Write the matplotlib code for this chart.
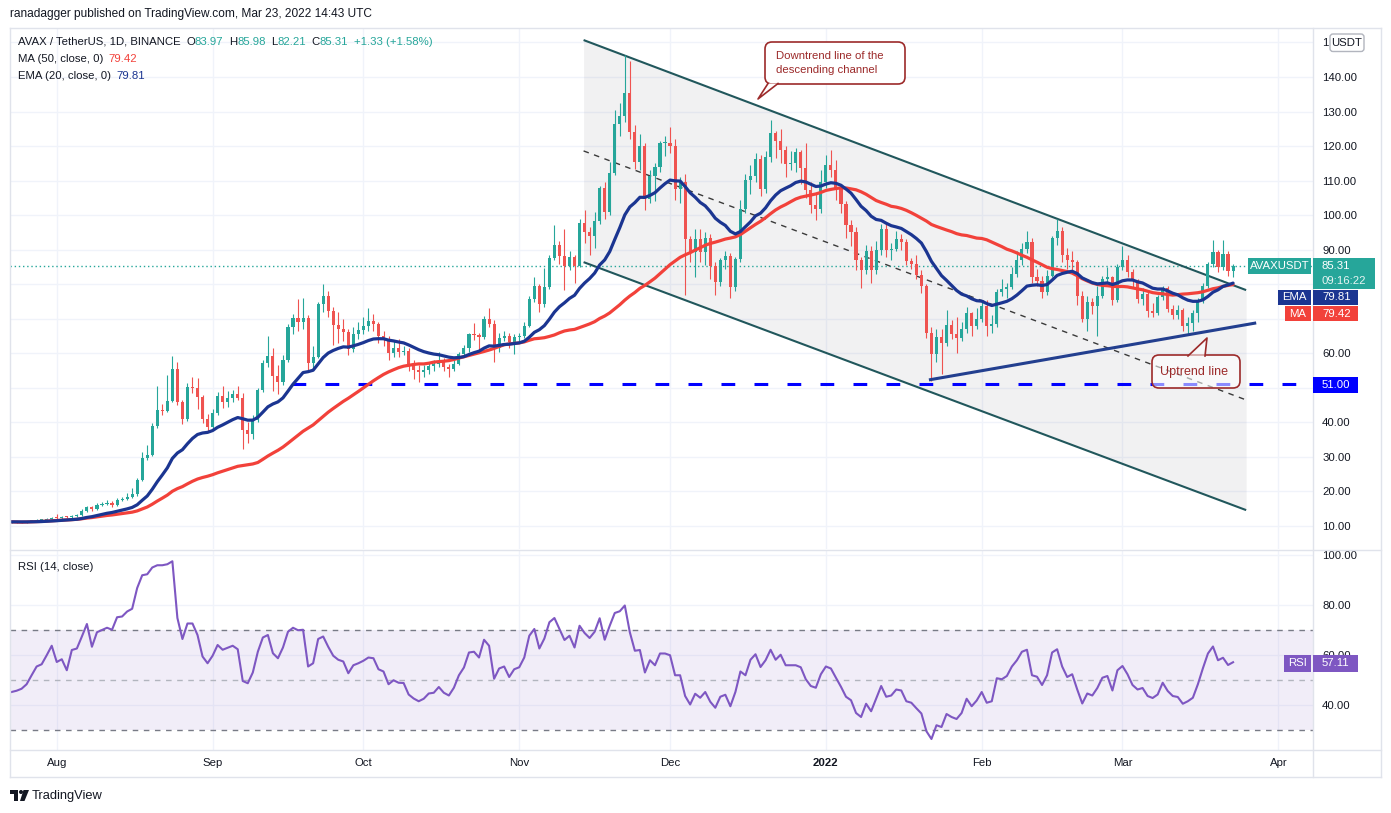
import matplotlib
matplotlib.use('Agg')
import matplotlib.pyplot as plt
import matplotlib.transforms as mtransforms
from matplotlib.patches import Rectangle, FancyBboxPatch, Polygon, Circle
from matplotlib.lines import Line2D
import numpy as np
import pandas as pd

plt.rcParams['font.family'] = ['Liberation Sans', 'DejaVu Sans']

# ---- data (AVAX/USDT daily) ----
first_day = '2021-07-23'
first_open = 11.0
closes = [
    11.2, 11.1, 11.0, 11.3, 11.4, 11.6, 11.7, 12.1, 12.4,
    # Aug
    12.2, 12.6, 12.5, 12.8, 13.2, 14.3, 15.4, 14.8, 16.2, 16.4, 16.8, 16.1, 17.6, 17.8, 18.3, 19.4,
    23.4, 29.8, 30.6, 39.0, 43.7, 43.4, 46.3, 55.6, 46.0, 41.1, 50.2, 50.0, 47.3, 41.1, 38.8,
    # Sep
    42.6, 47.6, 45.8, 47.2, 48.1, 47.2, 37.7, 36.7, 40.8, 49.3, 57.1, 59.1, 53.3, 51.6, 58.1,
    67.6, 70.2, 69.0, 70.2, 57.1, 59.0, 74.2, 76.5, 72.3, 68.1, 67.0, 66.1, 61.2, 65.5, 66.8,
    # Oct
    67.9, 69.4, 68.4, 65.0, 64.1, 60.0, 61.4, 60.3, 60.6, 56.8, 55.2, 54.5, 55.2, 56.3, 56.8, 57.8,
    55.9, 55.6, 56.8, 59.7, 61.4, 65.5, 65.2, 64.7, 69.9, 68.4, 61.4, 64.4, 65.0, 63.3, 64.6,
    # Nov
    65.0, 67.9, 75.7, 79.5, 74.2, 79.2, 87.6, 91.5, 88.2, 85.4, 88.0, 85.4, 97.8, 95.1, 94.0,
    98.2, 107.9, 101.0, 112.3, 126.3, 128.8, 135.3, 124.2, 115.5, 119.9, 104.8, 111.2, 114.0, 120.8, 121.0,
    # Dec
    120.0, 107.7, 109.5, 93.1, 89.2, 93.1, 89.3, 93.4, 85.4, 80.6, 86.9, 88.3, 79.2, 87.3, 101.9, 110.1,
    111.2, 116.4, 107.7, 116.9, 123.7, 121.5, 119.0, 114.9, 115.2, 118.3, 113.7, 107.3, 102.9, 101.9, 109.6,
    # Jan
    114.5, 113.0, 107.7, 103.3, 97.2, 95.1, 86.9, 84.0, 89.5, 84.2, 89.8, 96.0, 89.8, 90.2, 93.1, 92.1,
    86.6, 85.9, 82.7, 79.4, 66.0, 59.7, 64.7, 63.1, 68.1, 65.7, 64.4, 67.0, 71.8, 67.9, 69.9,
    # Feb
    73.8, 67.9, 68.4, 77.8, 78.5, 79.1, 83.0, 86.9, 90.2, 92.1, 82.1, 81.0, 77.7, 82.5,
    93.3, 95.5, 88.4, 86.9, 86.5, 76.7, 69.9, 74.8, 73.8, 76.7, 81.5, 82.0, 75.3, 84.9,
    # Mar
    86.9, 83.5, 81.0, 75.7, 77.2, 72.3, 71.8, 76.3, 78.8, 72.8, 71.0, 72.5, 67.9, 68.9, 71.8,
    75.2, 79.4, 85.9, 89.3, 84.9, 88.8, 83.97, 85.31,
]
highs = [
    11.4, 11.5, 11.3, 11.5, 11.7, 11.9, 12.0, 12.4, 12.7,
    13.6, 13.0, 13.0, 13.2, 13.6, 14.8, 15.9, 15.8, 16.6, 16.9, 17.4, 17.2, 18.0, 18.4, 19.5, 21.0,
    24.0, 31.5, 33.5, 39.8, 50.4, 45.2, 53.6, 59.1, 57.5, 46.5, 51.5, 53.0, 52.8, 48.0, 42.5,
    44.0, 48.8, 50.5, 49.2, 49.5, 50.5, 48.5, 40.2, 42.0, 50.0, 58.0, 65.0, 61.5, 56.5, 59.5,
    68.5, 71.5, 75.7, 76.0, 71.0, 62.0, 75.0, 80.0, 78.0, 73.5, 72.0, 70.0, 67.0, 67.5, 69.0,
    70.5, 73.0, 71.5, 69.0, 66.5, 65.0, 63.5, 64.0, 62.0, 61.5, 58.0, 56.5, 56.5, 57.5, 58.0, 60.5,
    58.5, 57.0, 58.0, 60.5, 62.5, 66.0, 68.8, 66.0, 70.8, 73.0, 69.5, 66.0, 66.5, 66.0, 65.5,
    66.0, 69.0, 76.5, 82.0, 80.0, 84.7, 88.5, 97.2, 92.5, 96.0, 89.5, 88.5, 99.0, 101.5, 96.5,
    101.0, 108.5, 109.5, 115.5, 130.5, 132.5, 146.5, 144.5, 126.0, 123.5, 121.0, 113.0, 115.0, 121.5, 123.0,
    125.5, 122.0, 111.0, 112.0, 94.0, 96.0, 96.0, 95.0, 94.5, 86.5, 87.5, 89.5, 89.0, 88.0, 104.5, 112.0,
    114.5, 118.0, 117.5, 118.5, 127.6, 124.5, 125.0, 120.0, 118.5, 119.5, 119.0, 121.0, 109.5, 106.0, 113.0,
    117.5, 119.0, 116.0, 109.0, 104.0, 98.5, 96.5, 88.0, 91.5, 91.0, 92.5, 97.5, 97.5, 92.0, 95.5, 94.5,
    93.0, 87.5, 88.5, 84.0, 80.0, 67.5, 67.0, 67.0, 72.5, 69.5, 70.5, 69.0, 73.5, 72.0, 73.0,
    75.0, 75.5, 71.0, 78.5, 81.5, 80.5, 85.0, 89.5, 92.0, 95.5, 93.5, 84.5, 82.5, 84.0,
    94.0, 99.0, 96.5, 90.5, 89.5, 87.0, 78.0, 76.5, 76.0, 79.5, 82.5, 85.0, 82.5, 86.0,
    91.0, 88.5, 84.5, 81.5, 79.0, 78.0, 74.5, 77.0, 79.5, 79.5, 74.0, 74.0, 73.0, 70.5, 72.5,
    76.0, 80.5, 86.5, 92.7, 90.0, 92.7, 89.5, 85.98,
]
lows = [
    10.9, 10.9, 10.8, 10.9, 11.1, 11.2, 11.4, 11.6, 11.9,
    11.9, 12.0, 12.2, 12.3, 12.6, 13.0, 14.1, 14.4, 14.6, 15.9, 16.1, 15.5, 15.9, 17.2, 17.6, 18.1,
    18.8, 22.9, 29.0, 30.2, 38.5, 42.2, 43.0, 46.0, 45.0, 39.5, 40.4, 48.5, 44.0, 39.8, 37.2,
    38.0, 42.0, 44.2, 44.5, 45.8, 46.4, 32.4, 34.0, 35.2, 40.0, 48.8, 56.0, 49.0, 48.2, 50.8,
    57.5, 65.5, 66.5, 67.0, 55.0, 55.5, 58.5, 72.0, 70.5, 62.5, 63.0, 63.5, 59.5, 60.5, 64.0,
    65.5, 66.5, 66.5, 63.0, 62.0, 58.0, 59.0, 59.0, 59.5, 55.0, 52.5, 51.6, 53.2, 54.0, 55.0, 56.0,
    54.8, 53.0, 55.0, 56.5, 59.0, 60.5, 63.8, 60.5, 64.2, 67.5, 57.5, 60.5, 63.5, 61.5, 59.8,
    63.5, 64.5, 67.5, 75.0, 72.0, 73.5, 78.5, 87.0, 86.0, 78.4, 84.0, 80.5, 85.0, 92.0, 88.5,
    90.5, 97.5, 99.0, 100.0, 111.5, 123.0, 127.0, 122.0, 113.5, 113.0, 101.5, 103.5, 104.0, 112.5, 117.0,
    118.0, 104.5, 103.5, 76.9, 86.5, 82.0, 86.5, 85.5, 81.5, 77.0, 79.5, 84.5, 76.0, 78.0, 86.5, 100.5,
    106.0, 109.5, 105.5, 106.5, 115.5, 116.5, 115.0, 111.0, 113.0, 112.5, 109.0, 105.0, 100.5, 98.5, 100.5,
    108.0, 111.0, 104.5, 100.5, 93.5, 91.0, 84.0, 79.0, 83.0, 80.5, 83.0, 88.5, 88.0, 87.0, 89.5, 90.0,
    85.5, 84.5, 81.5, 77.5, 64.5, 52.0, 57.5, 54.0, 62.0, 64.0, 60.0, 63.5, 66.0, 65.0, 67.0,
    69.0, 65.0, 66.0, 67.5, 76.5, 76.0, 78.5, 82.0, 85.5, 89.0, 80.5, 79.5, 76.0, 77.0,
    82.0, 91.5, 86.5, 84.5, 83.5, 74.0, 69.0, 66.5, 71.5, 65.0, 76.0, 80.0, 74.0, 75.0,
    84.0, 82.0, 79.0, 74.5, 74.0, 70.5, 70.5, 71.0, 75.5, 72.0, 70.0, 70.0, 66.5, 65.5, 66.5,
    69.0, 74.5, 79.0, 85.0, 83.5, 84.0, 82.5, 82.21,
]
rsi_values = [
    45.2, 45.7, 46.5, 48.3, 51.9, 55.4, 56.3, 59.9, 63.7,
    57.2, 58.3, 53.9, 62.0, 62.6, 67.4, 72.4, 63.3, 69.1, 70.0, 70.9, 70.1, 75.1, 75.4, 77.4, 78.5,
    86.8, 91.9, 92.3, 95.0, 95.9, 95.9, 96.3, 97.5, 74.8, 66.4, 72.6, 72.6, 68.0, 59.4, 56.7,
    59.7, 64.0, 62.1, 62.9, 63.7, 62.3, 49.6, 48.7, 53.0, 61.3, 67.0, 68.0, 60.7, 58.7, 63.0,
    69.3, 70.9, 69.9, 70.1, 55.4, 56.7, 66.4, 67.4, 63.3, 59.7, 58.1, 57.4, 52.7, 55.9, 56.7,
    57.7, 59.0, 58.7, 54.3, 53.4, 48.3, 49.9, 48.9, 48.8, 44.2, 42.6, 41.5, 42.5, 44.6, 44.9, 47.2,
    44.9, 43.8, 46.9, 51.9, 55.0, 61.0, 61.3, 59.0, 66.1, 63.7, 50.5, 54.6, 55.4, 51.2, 54.3,
    55.1, 59.0, 67.7, 70.4, 62.6, 66.6, 73.1, 74.8, 70.4, 66.0, 67.7, 63.0, 71.7, 68.8, 66.8,
    69.3, 74.7, 66.1, 71.7, 76.8, 77.5, 79.8, 69.1, 61.7, 62.0, 53.0, 57.9, 55.9, 60.6, 60.6,
    59.9, 51.9, 51.9, 43.6, 40.2, 44.5, 42.9, 45.2, 41.3, 38.9, 43.3, 44.1, 39.5, 45.2, 53.4, 51.9,
    58.1, 60.3, 55.2, 57.9, 62.1, 58.1, 60.1, 55.9, 55.9, 55.9, 55.1, 50.3, 47.6, 46.9, 52.3,
    55.4, 54.6, 50.9, 47.3, 43.3, 41.9, 36.8, 35.2, 40.5, 37.5, 42.5, 47.6, 43.3, 43.8, 46.2, 45.8,
    41.5, 40.9, 38.7, 36.6, 29.5, 26.4, 31.9, 31.2, 36.4, 35.2, 34.4, 36.8, 42.5, 39.5, 41.8,
    45.2, 40.9, 41.5, 50.7, 50.3, 51.6, 55.4, 57.9, 61.3, 62.1, 51.9, 51.3, 48.0, 51.9,
    61.0, 62.3, 55.4, 51.2, 52.3, 46.2, 40.6, 44.6, 43.8, 46.8, 50.9, 51.6, 45.8, 53.9,
    55.6, 52.3, 48.0, 46.2, 46.8, 43.6, 42.8, 44.2, 48.9, 45.6, 43.6, 43.2, 40.5, 41.5, 42.9,
    48.3, 54.7, 60.6, 63.4, 57.9, 58.9, 56.0, 57.11,
]

month_labels = ['Aug', 'Sep', 'Oct', 'Nov', 'Dec', '2022', 'Feb', 'Mar', 'Apr']
price_ticks = list(range(10, 160, 10))
hidden_ticks = [50, 70, 80]      # covered by the price tags on the scale
rsi_ticks = [40, 60, 80, 100]
support_level = 51.0

# drawing anchors: (days from 2022-01-01, price)
channel_top = [(-48.2, 150.7), (83.6, 78.3)]
channel_bottom = [(-48.2, 86.4), (83.6, 14.6)]
channel_mid = [(-48.2, 118.6), (83.6, 46.5)]
uptrend = [(20.5, 52.3), (85.6, 68.8)]
support_start = -106.2

GREEN = '#26a69a'
RED = '#ef5350'
MA_C = '#f2413a'
EMA_C = '#1b3591'
RSI_C = '#7e57c2'
TXT = '#131722'
GRID = '#f0f3fa'
FRAME = '#e0e3eb'
NOTE = '#9c2a2a'

W, H = 1391, 813
fig = plt.figure(figsize=(W / 100, H / 100), dpi=100)
fig.patch.set_facecolor('white')
px = mtransforms.Affine2D().scale(1 / W, -1 / H).translate(0, 1) + fig.transFigure

ax = fig.add_axes([10 / W, (H - 549) / H, 1303 / W, 521 / H])
ax2 = fig.add_axes([10 / W, (H - 750) / H, 1303 / W, 199 / H], sharex=ax)

day0 = pd.Timestamp('2022-01-01')
dates = pd.date_range(first_day, periods=len(closes), freq='D')
x = np.asarray((dates - day0).days, dtype=float)
c = np.array(closes)
h = np.array(highs)
l = np.array(lows)
o = np.r_[first_open, c[:-1]]
col = np.where(c >= o, GREEN, RED)

months = pd.date_range('2021-08-01', '2022-04-01', freq='MS')
mx = np.asarray((months - day0).days, dtype=float)

# ---- main pane ----
ax.set_xlim(-162.3, 96.9)
ax.set_ylim(3.34, 154.19)
for a in (ax, ax2):
    for s in a.spines.values():
        s.set_visible(False)
    a.set_axisbelow(True)
    a.set_xticks(mx)
    a.grid(True, color=GRID, lw=1)
    a.yaxis.tick_right()
    a.tick_params(axis='both', length=0, labelsize=8.2, labelcolor=TXT)
    a.tick_params(axis='y', pad=6.5)

ax.set_yticks(price_ticks)
tick_text = []
for v in price_ticks:
    if v in hidden_ticks:
        tick_text.append('')
    elif v == 150:
        tick_text.append('1')   # rest of the label sits under the USDT box
    else:
        tick_text.append(f'{v:.2f}')
ax.set_yticklabels(tick_text)
ax.tick_params(axis='x', labelbottom=False)

# descending channel
ax.fill_between([channel_top[0][0], channel_top[1][0]],
                [channel_top[0][1], channel_top[1][1]],
                [channel_bottom[0][1], channel_bottom[1][1]],
                color='#787b86', alpha=0.1, lw=0, zorder=1)
for line in (channel_top, channel_bottom):
    ax.plot([p[0] for p in line], [p[1] for p in line], color='#21575c', lw=1.5, zorder=3,
            solid_capstyle='butt')
ax.plot([p[0] for p in channel_mid], [p[1] for p in channel_mid], color='#3a3a3a', lw=1,
        ls=(0, (4, 4)), zorder=3)

# support at 51
ax.plot([support_start, 96.9], [support_level, support_level], color='#0000ff', lw=2.2,
        ls=(0, (4.5, 6.3)), zorder=3)

# last price line
ax.axhline(c[-1], color=GREEN, lw=1, ls=(0, (1, 2)), zorder=2)

# candles
ax.vlines(x, l, h, colors=col, lw=0.8, zorder=4)
ax.bar(x, np.maximum(np.abs(c - o), 0.3), bottom=np.minimum(o, c), width=0.62,
       color=col, lw=0, zorder=4)

# moving averages
s = pd.Series(c)
ma50 = s.rolling(50, min_periods=1).mean()
ema20 = s.ewm(span=20, adjust=False).mean()
ax.plot(x, ma50, color=MA_C, lw=2.3, zorder=5, solid_capstyle='round')
ax.plot(x, ema20, color=EMA_C, lw=2.3, zorder=5, solid_capstyle='round')

# uptrend line
ax.plot([p[0] for p in uptrend], [p[1] for p in uptrend], color='#233f8f', lw=2.2, zorder=6,
        solid_capstyle='butt')

# ---- RSI pane ----
ax2.set_ylim(22, 101.6)
ax2.set_yticks(rsi_ticks)
ax2.set_yticklabels([f'{v:.2f}' for v in rsi_ticks])
ax2.axhspan(30, 70, color=RSI_C, alpha=0.1, lw=0, zorder=1)
ax2.axhline(70, color='#787b86', lw=1, ls=(0, (4, 4)), zorder=2)
ax2.axhline(30, color='#787b86', lw=1, ls=(0, (4, 4)), zorder=2)
ax2.axhline(50, color='#b2b5be', lw=1, ls=(0, (4, 4)), zorder=2)
ax2.plot(x, rsi_values, color=RSI_C, lw=1.5, zorder=4)
ax2.set_xticklabels(month_labels)
ax2.tick_params(axis='x', pad=6)
ax2.get_xticklabels()[5].set_fontweight('bold')

# ---- frame ----
def hline(y, x0, x1):
    fig.add_artist(Line2D([x0, x1], [y, y], color=FRAME, lw=1, transform=px))

def vline(xp, y0, y1):
    fig.add_artist(Line2D([xp, xp], [y0, y1], color=FRAME, lw=1, transform=px))

hline(28, 10, 1381)
hline(777, 10, 1381)
hline(550, 10, 1381)
hline(750, 10, 1381)
vline(10, 28, 777)
vline(1381, 28, 777)
vline(1313, 28, 777)

# ---- price scale labels ----
def tag(x0, x1, y0, y1, text, fc, tc='white', size=8.2, ha='center', bold=False):
    fig.add_artist(Rectangle((x0, y0), x1 - x0, y1 - y0, transform=px, fc=fc, ec='none',
                             zorder=5))
    tx = (x0 + x1) / 2 if ha == 'center' else x0 + 9
    fig.text(tx, (y0 + y1) / 2, text, transform=px, color=tc, fontsize=size, ha=ha,
             va='center', zorder=6, fontweight='bold' if bold else 'normal')

fig.add_artist(FancyBboxPatch((1330, 34), 34, 17.5, boxstyle='round,pad=0,rounding_size=3',
                              transform=px, fc='white', ec='#b2b5be', lw=1, zorder=5))
fig.text(1347, 42.8, 'USDT', transform=px, color=TXT, fontsize=8.2, ha='center',
         va='center', zorder=6)

tag(1248, 1311, 258, 273.5, 'AVAXUSDT', GREEN)
fig.add_artist(Rectangle((1313, 258), 62, 31, transform=px, fc=GREEN, ec='none', zorder=5))
fig.text(1322, 266, f'{c[-1]:.2f}', transform=px, color='white', fontsize=8.2, va='center',
         zorder=6)
fig.text(1322, 281, '09:16:22', transform=px, color='#e6f4f2', fontsize=8.2, va='center',
         zorder=6)
tag(1278, 1311, 289.5, 305, 'EMA', EMA_C)
tag(1313, 1358, 289.5, 305, '79.81', EMA_C, ha='left')
tag(1285, 1311, 306, 321.5, 'MA', MA_C)
tag(1313, 1358, 306, 321.5, '79.42', MA_C, ha='left')
tag(1313, 1358, 377.5, 393, f'{support_level:.2f}', '#0000ff', ha='left')
tag(1284, 1311, 655, 671.5, 'RSI', RSI_C)
tag(1313, 1358, 655, 671.5, f'{rsi_values[-1]:.2f}', RSI_C, ha='left')

# ---- callouts ----
def callout(x0, y0, w, hgt, base, tip, fc, lines, tx, ty0, dy, size):
    fig.add_artist(FancyBboxPatch((x0, y0), w, hgt, boxstyle='round,pad=0,rounding_size=7',
                                  transform=px, fc=fc, ec=NOTE, lw=1.2, zorder=3))
    ptr = [base[0], tip, base[1]]
    fig.add_artist(Polygon(ptr, closed=True, transform=px, fc=fc, ec='none', zorder=3.1))
    fig.add_artist(Line2D([base[0][0], tip[0], base[1][0]], [base[0][1], tip[1], base[1][1]],
                          color=NOTE, lw=1.2, transform=px, zorder=3.2))
    for k, t in enumerate(lines):
        fig.text(tx, ty0 + k * dy, t, transform=px, color=NOTE, fontsize=size, va='center',
                 zorder=3.3)

callout(765, 42, 140, 42, [(768, 83.5), (778, 83.5)], (758, 99), 'white',
        ['Downtrend line of the', 'descending channel'], 776, 56, 14, 8.2)
callout(1152, 355, 88, 33, [(1188, 356), (1205, 356)], (1207, 338), (1, 1, 1, 0.55),
        ['Uptrend line'], 1160, 371.5, 0, 9)

# ---- legends ----
def chain(x0, y, parts, size=8.2):
    t = fig.text(x0, y, parts[0][0], transform=px, color=parts[0][1], fontsize=size,
                 va='center', zorder=6)
    for txt, color, gap in parts[1:]:
        t = ax.annotate(txt, xy=(1, 0.5), xycoords=t, xytext=(gap, 0),
                        textcoords='offset points', va='center', ha='left', color=color,
                        fontsize=size, zorder=6)
    return t

chain(18, 42, [('AVAX / TetherUS, 1D, BINANCE', TXT), ('O', TXT, 4), ('83.97', GREEN, 0),
               ('H', TXT, 4), ('85.98', GREEN, 0), ('L', TXT, 4), ('82.21', GREEN, 0),
               ('C', TXT, 4), (f'{c[-1]:.2f}', GREEN, 0), ('+1.33 (+1.58%)', GREEN, 4)])
chain(18, 59, [('MA (50, close, 0)', TXT), ('79.42', MA_C, 4)])
chain(18, 76, [('EMA (20, close, 0)', TXT), ('79.81', EMA_C, 4)])
chain(18, 567, [('RSI (14, close)', TXT), (f'{rsi_values[-1]:.2f}', RSI_C, 4)])

fig.text(10, 14, 'ranadagger published on TradingView.com, Mar 23, 2022 14:43 UTC',
         transform=px, color=TXT, fontsize=8.6, va='center')

# TradingView logo
fig.add_artist(Rectangle((10, 790), 8, 3.5, transform=px, fc=TXT, ec='none'))
fig.add_artist(Rectangle((14, 790), 4, 11, transform=px, fc=TXT, ec='none'))
fig.add_artist(Circle((21, 792), 2, transform=px, fc=TXT, ec='none'))
fig.add_artist(Polygon([(23.5, 790), (29, 790), (24.5, 801), (20, 801)], closed=True,
                       transform=px, fc=TXT, ec='none'))
fig.text(32, 796, 'TradingView', transform=px, color=TXT, fontsize=9.3, va='center')

fig.savefig('out.png', dpi=100, facecolor='white')
